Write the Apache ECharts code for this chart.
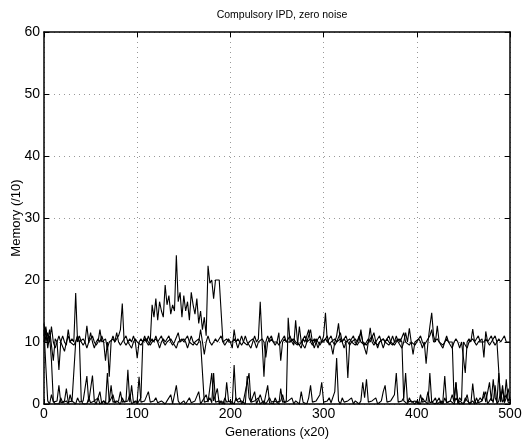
<!DOCTYPE html>
<html>
<head>
<meta charset="utf-8">
<script src="https://cdn.jsdelivr.net/npm/echarts@6/dist/echarts.min.js"></script>
<style>
  html, body { margin: 0; padding: 0; background: #fff; }
  #chart { width: 531px; height: 444px; }
</style>
</head>
<body>
<div id="chart"></div>
<script>
// sampled every 2 generations (x20), 0..500
var genStep = 2;
var xTicks = [0, 100, 200, 300, 400, 500];
var yTicks = [0, 10, 20, 30, 40, 50, 60];

var memA = [
  11,12.5,10,12,9.5,7,10.5,10,5.5,10,11,10,9.5,12,10,10.5,10,17.9,10,11,10,9.5,10,12.6,10,
  11.5,10,9,10,10.5,10,11,10,7,10,4.4,10,11,10,10,11,12,16.2,10,9.5,10,10.5,10,11,10,
  7.4,10,10.5,10,11,10,9.5,10,10.5,10,11,10,9,10,10.5,10,10,11,10,9.5,10,10,11.5,10,10,
  10.5,10,9,10,11,10,10,9.5,10,12,10,8,10,11,10,9.5,10,10.5,10,10,11,10,9.5,10,10.5,
  10,9,12,10,10.5,10,9.5,10,11,10,10,9,10,11,10,10.5,16.5,10,4.4,10,11,10,10.5,10,9.5,
  10,11.5,7,10,10.5,10,10,11,10,9.5,13.5,10,10,9,10.5,10,11,12,10,9.5,10,10.5,10,9.5,10,
  11,14.7,10,10,9.5,8,10,11,13,10,10,10.5,10,4.2,10,10,11,10,9.5,10,12,10,10,8,10,
  12.3,10,9.5,10,10,11,10,9,10,10.5,10,10,9.5,10,11,10,10,9,10,11.5,10,12.2,10,8,10,
  10,10.5,10,9,10,6.5,10,12.5,14.7,11,10,12.6,10,10,9.5,10,10.5,10,10,9,10,10.5,10,9,10,
  10,5,10,10.5,10,12.1,10,9.5,10,10,10.5,7.5,11.7,10,10,11,10,9.5,10,10.5,10,10,11,10,10,
  10
];
var memB = [
  13,10,11.5,10,12.5,10,9,10,11,10,10,8.5,10,11,10,10,9.5,10,11,10,10,10.5,10,9,10,
  10,11,10,9.5,10,12,10,10,10.5,9,10,10,10.5,10,11.5,10,9.5,10,10,11,10,10,9,10,10.5,
  10,10,9.5,10,10.5,10,11,10,16,14,17,13.5,16.5,15,14,19.2,16,17.5,14.5,16,15,24,16.5,18,14,
  17.5,15,16.5,13.5,18,16,14.5,17,13,15,12,14,11,22.3,19.5,20,17,20,20,20,19.8,10,10,10.5,10,
  10,10,10.5,10,9,10,11,10,10,9.5,10,10,10.5,10,9,10,10,10.5,10,7.5,10,10,11,10,10,
  10,9.5,10,10,11,10,10,10,10.5,10,10,9.5,12.5,10,10,9,10,10,12,10,10.5,10,9,10,10,
  10,10,11,9.5,10,10,10.5,10,10,11.5,10,9,10,10,10.5,10,10,9.5,10,11,10,10,9.5,10,10.5,
  10,10,11.5,10,9,10,10,10.5,10,10,9.5,10,11,10,10,10.5,10,10,11.5,10,10,9.5,10,10,9.5,
  10,10,11,10,9.5,10,10,11,12,10,10,10.5,10,10,9,10,11,10,10,10,0.5,3.5,0.3,1,0.5,
  10,10,9,10,10,10.5,10,10,11,10,10,10,10.5,10,9.5,10,10,11,10,10,0.3,2.5,0.5,4,0.5,
  1
];
var memC = [
  12,6,0.5,0,1.5,0.3,0,0.5,3,0.2,0,0.5,2.5,0.3,0,0.5,0.2,0,1,0.3,0,0.5,0.2,4.5,0.3,
  0,4.6,0.5,0.2,1,0,0.3,0.5,0,5,0.3,0,1.5,0.2,0,0.5,2,0.3,0,0.5,5.5,0.3,3,0.2,0,
  0.5,4.4,0.3,0,0.5,0.2,2,0.3,0,0.5,1,0.2,0,0.5,0.3,0,0.5,0.2,1.5,0,0.3,3,0.5,0,0.2,
  0.5,0,0.3,1,0.2,0,0.5,0.3,2,0,0.5,0.2,1.5,0.3,0,5,0.5,0.2,2.5,0,0.5,0.3,0,3.5,0.5,
  0.2,0,6.3,0.5,0.3,1,0,0.5,2,3.5,5,0.3,0.5,2,0,0.3,1.5,0.5,0,0.3,3,0.2,0.5,0,1,
  0.3,0,0.5,1.5,0.2,0,0.5,0.3,1,0,0.5,0.2,0,2,0.3,0.5,0,1,3,0.3,0,0.5,0.2,1.5,3.5,
  0.3,0,0.5,1,0.2,0.5,2,7.4,0.5,0,1,0.3,0,0.5,0.2,1,0,0.5,0.3,0,0.5,3.5,1,4,0.3,
  0,0.5,0.2,1,0,0.3,0.5,2,3,0.3,0,0.5,0.2,1.5,5,0.3,0,0.5,1,5,0.3,0,0.5,0.2,0,
  0.5,0.3,0,1,0.5,0.2,0,5,0.3,0.5,0,0.3,1,0,0.5,4.5,0.2,0,0.5,1.5,0.3,3.5,0,0.5,0.2,
  0,1,0.5,0.2,0,3.3,0.5,0,0.3,1,0.5,2,0.3,0,3.5,0.5,4,1,0.3,5,0.5,3,0.2,1,2.5,
  0.5
];
var memD = [
  10,12,9,11,7,0.5,0,0.3,0,1,0.2,0,0.5,0,1.5,0.3,0,10,11,10,0.5,0,0.3,0,1,
  0.2,0,0.5,0,0.3,2,0,0.5,0.2,0,0.5,3,0.3,0,0.5,0.2,0,1,0.3,0,0.5,1.5,0,0.3,0.5,
  0,0.3,1,10,10,10.5,10,9.5,10,10,10.5,10,10,11,10,9.5,10,10,10.5,10,10,9,10,10,10.5,
  10,10,11,10,10,9.5,10,10,10.5,10,10,0.3,0,0.5,1,0.2,5,0.3,0,0.5,0.2,0,1,0.3,0,
  0.5,0.2,0,1,0.3,0,0.5,0.2,0,4.5,1,0.3,0,0.5,0.2,1,0,0.3,0.5,0,0.2,1,0.3,0,0.5,
  0.2,0,2.5,0.3,0,0.5,13.9,10,10,10.5,10,10,9.5,10,10,11,10,10,10.5,10,9,10,10,11,10,
  10,10.5,10,10,11,10,9.5,10,10,10.5,10,10,11,10,9.5,10,10,10.5,10,10,11.5,10,10,9.5,10,
  10,11,10,10,9.5,10,10,10.5,10,10,11,10,10,9.5,10,10,10.5,10,0.5,0.2,0,1,0.3,0,0.5,
  0.2,0,1.5,0.3,0,0.5,2,0.2,0,0.5,1,0,0.3,0.5,0,1,0.2,0,0.5,0.3,0,1,0.5,0,0.3,
  0,0.5,1.5,0,0.3,0.5,0,1,0.2,0,0.5,0.3,2,0,0.5,1,0.2,3,0,0.5,2,0.3,0,1.5,0.3,
  0.2
];

function pairs(vals) {
  return vals.map(function (v, i) { return [i * genStep, v]; });
}

var chart = echarts.init(document.getElementById('chart'));
var font = 'Liberation Sans, Arial, Helvetica, sans-serif';
var gridLine = { show: true, lineStyle: { color: '#999', type: [1, 4], width: 1 } };
var boxLine = { show: true, onZero: false, lineStyle: { color: '#000', width: 1.5 } };
var boxTick = { show: true, inside: true, length: 5, lineStyle: { color: '#000' } };

var series = [memA, memB, memC, memD].map(function (vals) {
  return {
    type: 'line',
    data: pairs(vals),
    symbol: 'none',
    silent: true,
    lineStyle: { color: '#000', width: 1.1 }
  };
});

chart.setOption({
  animation: false,
  title: {
    text: 'Compulsory IPD, zero noise',
    left: 277, top: 5, textAlign: 'center',
    textStyle: { fontFamily: font, fontSize: 10.5, fontWeight: 'normal', color: '#000' }
  },
  grid: { left: 44, right: 21, top: 32, bottom: 40, outerBoundsMode: 'none', containLabel: false },
  xAxis: [{
    type: 'value', min: 0, max: 500, interval: 100,
    name: 'Generations (x20)', nameLocation: 'middle', nameGap: 20,
    nameTextStyle: { fontFamily: font, fontSize: 13, color: '#000' },
    axisLine: boxLine, axisTick: boxTick,
    axisLabel: { fontFamily: font, fontSize: 14, color: '#000', margin: 3,
      formatter: function (v) { return xTicks.indexOf(v) >= 0 ? String(v) : ''; } },
    splitLine: gridLine
  }, {
    type: 'value', min: 0, max: 500, interval: 100, position: 'top',
    axisLine: boxLine, axisTick: boxTick,
    axisLabel: { show: false }, splitLine: { show: false }
  }],
  yAxis: [{
    type: 'value', min: 0, max: 60, interval: 10,
    name: 'Memory (/10)', nameLocation: 'middle', nameGap: 21, nameRotate: 90,
    nameMoveOverlap: false,
    nameTextStyle: { fontFamily: font, fontSize: 13, color: '#000' },
    axisLine: boxLine, axisTick: boxTick,
    axisLabel: { fontFamily: font, fontSize: 14, color: '#000', margin: 4,
      formatter: function (v) { return yTicks.indexOf(v) >= 0 ? String(v) : ''; } },
    splitLine: gridLine
  }, {
    type: 'value', min: 0, max: 60, interval: 10, position: 'right',
    axisLine: boxLine, axisTick: boxTick,
    axisLabel: { show: false }, splitLine: { show: false }
  }],
  series: series
});
</script>
</body>
</html>
